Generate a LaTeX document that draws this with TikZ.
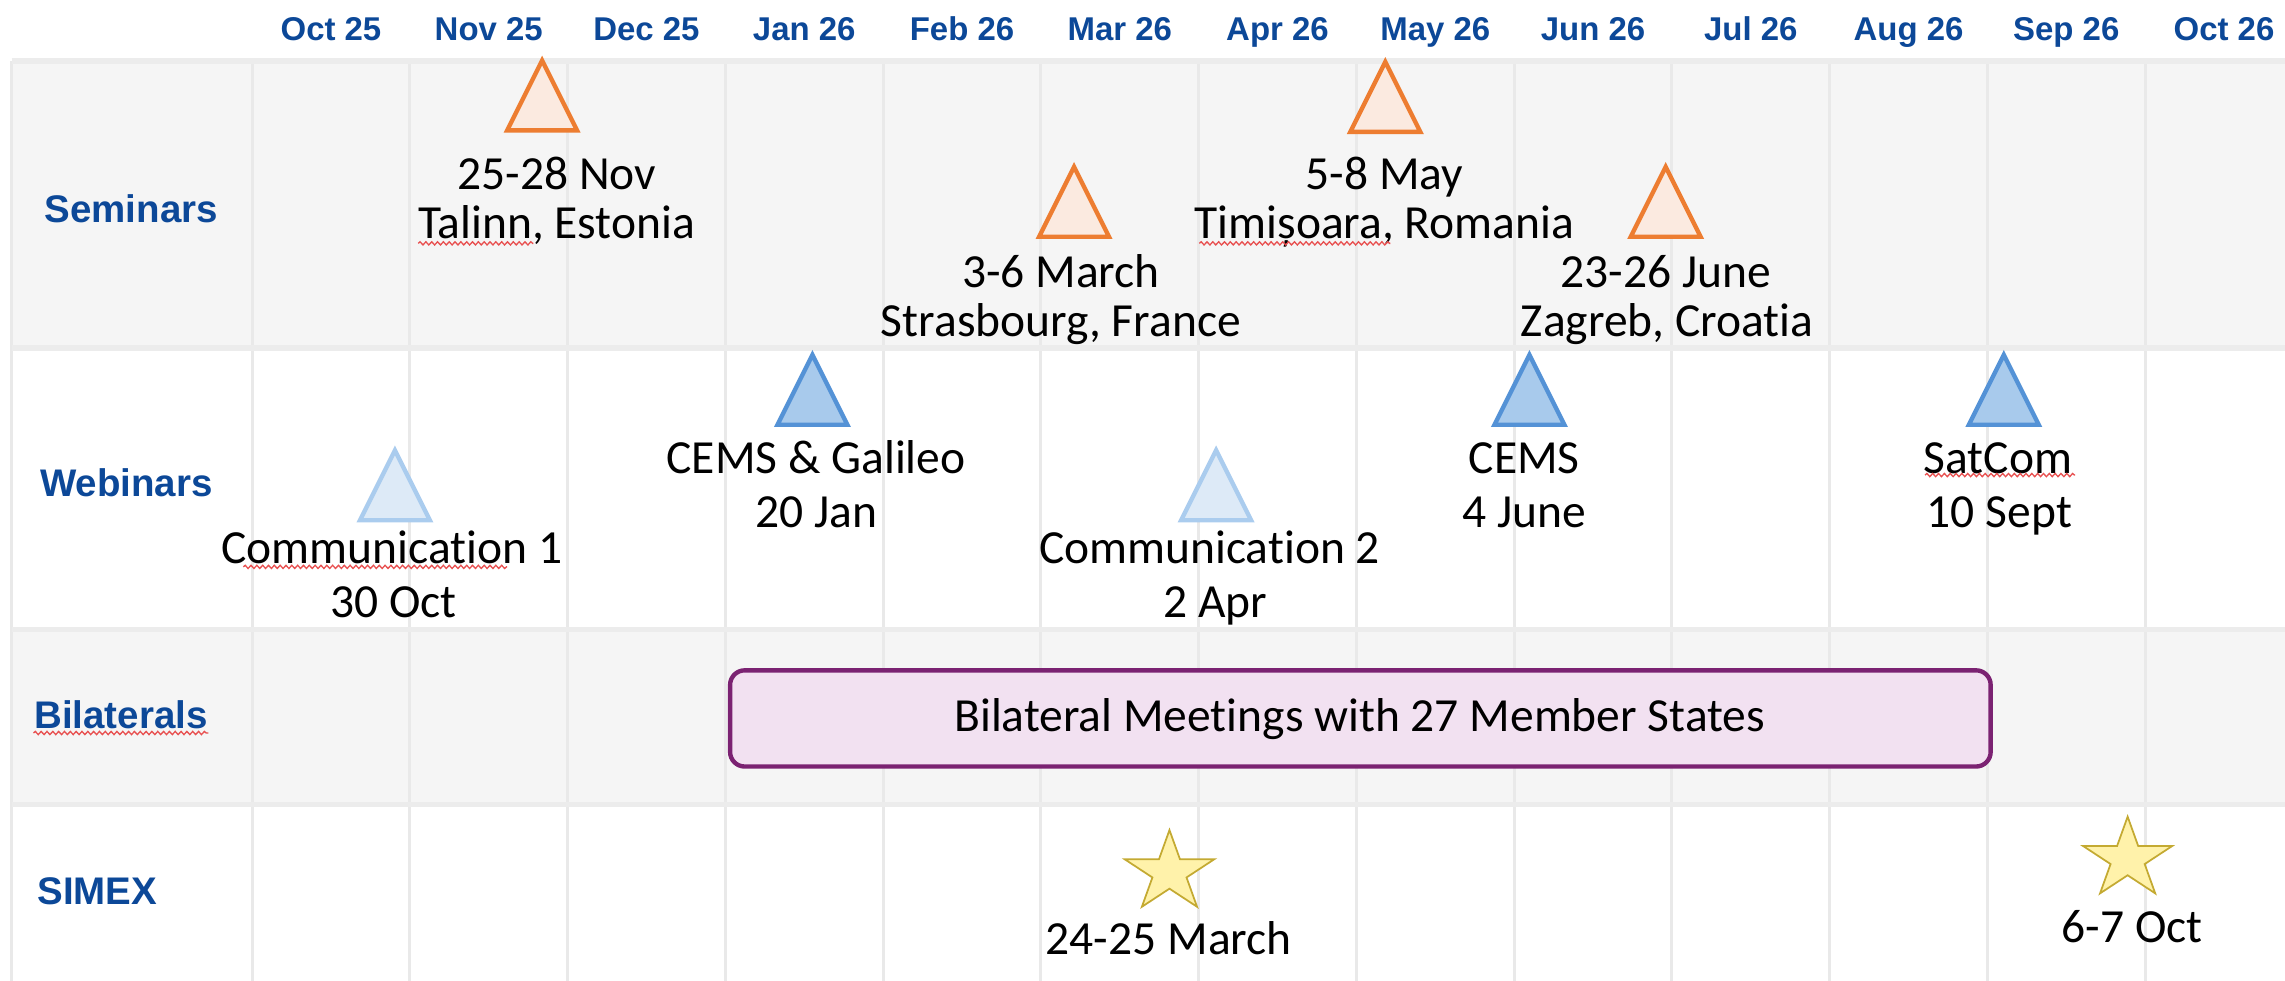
\documentclass[tikz,border=0pt]{standalone}
\usepackage{fontspec}
\setmainfont{Liberation Sans}
\newfontfamily\hwfont[Ligatures={NoCommon}]{Carlito}
\usetikzlibrary{decorations.pathmorphing}
\definecolor{hdrblue}{RGB}{12,72,152}
\definecolor{band}{RGB}{245,245,245}
\definecolor{gridc}{RGB}{233,233,233}
\definecolor{sepc}{RGB}{236,236,236}
\definecolor{orstroke}{RGB}{237,125,49}
\definecolor{orfill}{RGB}{251,234,224}
\definecolor{bstroke}{RGB}{84,146,214}
\definecolor{bfill}{RGB}{168,202,236}
\definecolor{lbstroke}{RGB}{170,204,238}
\definecolor{lbfill}{RGB}{221,234,247}
\definecolor{pstroke}{RGB}{123,34,114}
\definecolor{pfill}{RGB}{242,225,241}
\definecolor{ystroke}{RGB}{196,170,50}
\definecolor{yfill}{RGB}{255,242,170}
\definecolor{squigc}{RGB}{232,80,80}
\begin{document}
\begin{tikzpicture}[x=0.5pt,y=-0.5pt,
  month/.style={font=\fontsize{11.3}{13}\selectfont\bfseries, text=hdrblue, inner sep=0, anchor=base},
  rowlab/.style={font=\fontsize{13.2}{15}\selectfont\bfseries, text=hdrblue, inner sep=0, anchor=base},
  hw/.style={font=\hwfont\fontsize{16.3}{18}\selectfont, inner sep=0, anchor=base},
  gridline/.style={draw=gridc, line width=1pt},
  sepline/.style={draw=sepc, line width=2pt},
  semtri/.style={draw=orstroke, fill=orfill, line width=1.5pt, line join=miter},
  webtri/.style={draw=bstroke, fill=bfill, line width=1.5pt, line join=miter},
  comtri/.style={draw=lbstroke, fill=lbfill, line width=1.5pt, line join=miter},
  simstar/.style={draw=ystroke, fill=yfill, line width=0.6pt, line join=miter},
  bilbox/.style={draw=pstroke, fill=pfill, line width=1.5pt, rounded corners=5pt, inner sep=0},
  squig/.style={draw=squigc, line width=0.45pt, decorate, decoration={snake, amplitude=0.55pt, segment length=2pt}},
  pics/tri/.style={code={\path[#1] (0,3.5) -- (-24,51.5) -- (24,51.5) -- cycle;}},
  pics/star/.style={code={\path[simstar] (0,-29.1) -- (-7.23,-8.99) -- (-30.62,-8.99) -- (-11.70,3.43) -- (-18.93,23.54) -- (0,11.12) -- (18.93,23.54) -- (11.70,3.43) -- (30.62,-8.99) -- (7.23,-8.99) -- cycle;}}
]
\useasboundingbox (0,0) rectangle (1568,673);
% bands
\fill[white] (0,0) rectangle (1568,673);
\fill[band] (8,42) rectangle (1568,239);
\fill[band] (8,432) rectangle (1568,552);
% grid
\draw[gridline] (8,42) -- (8,673);
\foreach \k in {0,...,12} { \draw[gridline] ({173+108.25*\k},42) -- ({173+108.25*\k},673); }
\foreach \yy in {42,239,432,552} { \draw[sepline] (8,\yy) -- (1568,\yy); }
% months
\foreach \m [count=\k from 0] in {Oct 25,Nov 25,Dec 25,Jan 26,Feb 26,Mar 26,Apr 26,May 26,Jun 26,Jul 26,Aug 26,Sep 26,Oct 26}
  { \node[month] (m\k) at ({173+108.25*(\k+0.5)},27.5) {\m}; }
% row labels
\node[rowlab] (lsem) at (90,153) {Seminars};
\node[rowlab] (lweb) at (86.7,341) {Webinars};
\node[rowlab] (lbil) at (83,500) {Bilaterals};
\node[rowlab] (lsim) at (66.7,621) {SIMEX};
% seminars
\coordinate (tnov) at (372,38);   \pic at (tnov) {tri=semtri};
\coordinate (tmar) at (737,111);  \pic at (tmar) {tri=semtri};
\coordinate (tmay) at (950.6,39); \pic at (tmay) {tri=semtri};
\coordinate (tjun) at (1143,111); \pic at (tjun) {tri=semtri};
\node[hw] (snov1) at (382,130) {25-28 Nov};
\node[hw] (snov2) at (382,164) {Talinn, Estonia};
\node[hw] (smar1) at (728,197) {3-6 March};
\node[hw] (smar2) at (728,231) {Strasbourg, France};
\node[hw] (smay1) at (950,130) {5-8 May};
\node[hw] (smay2) at (950,164) {Timișoara, Romania};
\node[hw] (sjun1) at (1143,197) {23-26 June};
\node[hw] (sjun2) at (1144,231) {Zagreb, Croatia};
% webinars
\coordinate (wjan) at (557.5,240); \pic at (wjan) {tri=webtri};
\coordinate (wjun) at (1049.5,240); \pic at (wjun) {tri=webtri};
\coordinate (wsep) at (1375,240); \pic at (wsep) {tri=webtri};
\coordinate (woct) at (271,305.5); \pic at (woct) {tri=comtri};
\coordinate (wapr) at (834.5,305.5); \pic at (wapr) {tri=comtri};
\node[hw] (wjan1) at (560,325) {CEMS \& Galileo};
\node[hw] (wjan2) at (560,362) {20 Jan};
\node[hw] (wjun1) at (1046,325) {CEMS};
\node[hw] (wjun2) at (1046,362) {4 June};
\node[hw] (wsep1) at (1371,325) {SatCom};
\node[hw] (wsep2) at (1372,362) {10 Sept};
\node[hw] (woct1) at (269,387) {Communication 1};
\node[hw] (woct2) at (270,424) {30 Oct};
\node[hw] (wapr1) at (830,387) {Communication 2};
\node[hw] (wapr2) at (834,424) {2 Apr};
% bilaterals
\node[bilbox, minimum width=432.5pt, minimum height=33pt] (bbox) at (933.5,493) {};
\node[hw] (btext) at (933,502) {Bilateral Meetings with 27 Member States};
% simex
\coordinate (xmar) at (802.5,598.7); \pic at (xmar) {star};
\coordinate (xoct) at (1460,589.5); \pic at (xoct) {star};
\node[hw] (xmar1) at (802,655) {24-25 March};
\node[hw] (xoct1) at (1463,647) {6-7 Oct};
% spell-check squiggles
\draw[squig] (287,167) -- (366,167);
\draw[squig] (823,167) -- (954,167);
\draw[squig] (167,389) -- (348,389);
\draw[squig] (1321,326) -- (1424,326);
\draw[squig] (23,503) -- (143,503);
\end{tikzpicture}
\end{document}
